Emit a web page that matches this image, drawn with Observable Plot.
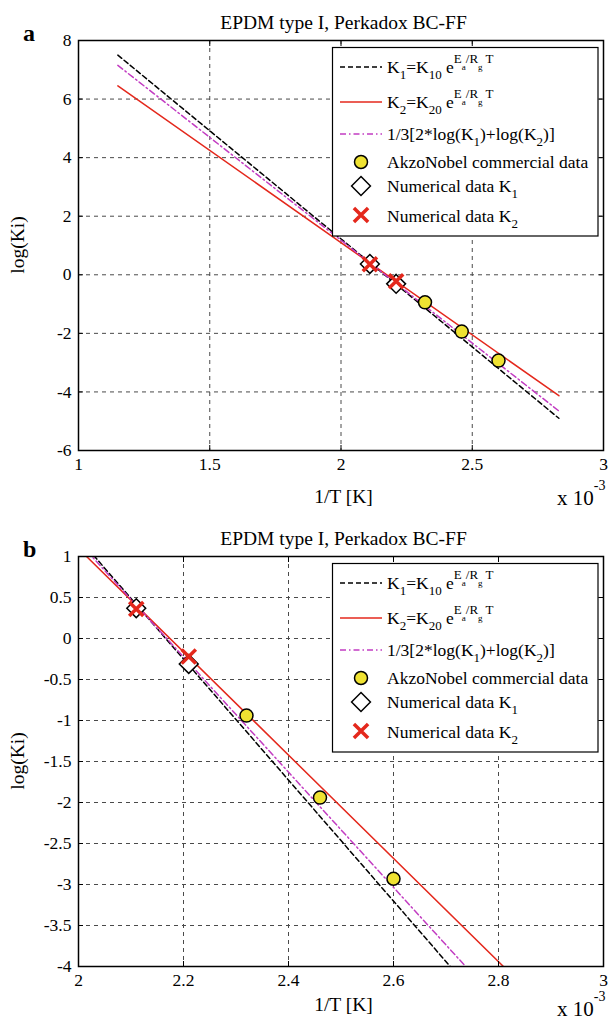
<!DOCTYPE html>
<html><head><meta charset="utf-8">
<script src="https://cdn.jsdelivr.net/npm/d3@7"></script>
<script src="https://cdn.jsdelivr.net/npm/@observablehq/plot@0.6"></script>
<style>
body{margin:0;background:#fff;}
svg{display:block;}
svg text{font-family:"Liberation Serif","Times New Roman",serif !important;}
</style></head><body><div id="chart"></div>
<script>
const FONT = '"Liberation Serif","Times New Roman",serif';
const title = "EPDM type I, Perkadox BC-FF";
const panelLetters = ["a", "b"];
const xLabel = "1/T [K]";
const yLabel = "log(Ki)";

// straight-line fits: endpoints (x = 1/T in 10^-3 1/K)
const invT_line = [1.15, 2.83];
const logK1_line = [7.5, -4.9];
const logK2_line = [6.45, -4.13];
const logMix_line = [7.15, -4.65];

// markers
const akzo_x = [2.32, 2.46, 2.60];
const akzo_y = [-0.94, -1.94, -2.93];
const numK1_x = [2.11, 2.21];
const numK1_y = [0.37, -0.31];
const numK2_x = [2.11, 2.21];
const numK2_y = [0.36, -0.22];

// ticks
const xTicksA = [1, 1.5, 2, 2.5, 3];
const yTicksA = [-6, -4, -2, 0, 2, 4, 6, 8];
const xTicksB = [2, 2.2, 2.4, 2.6, 2.8, 3];
const yTicksB = [-4, -3.5, -3, -2.5, -2, -1.5, -1, -0.5, 0, 0.5, 1];

const legendLabels = [
  [["K",""],["1","sub"],["=K",""],["10","sub"],[" e",""],["E","sup"],["a","supsub"],["/R","sup"],["g","supsub"],[" T","sup"]],
  [["K",""],["2","sub"],["=K",""],["20","sub"],[" e",""],["E","sup"],["a","supsub"],["/R","sup"],["g","supsub"],[" T","sup"]],
  [["1/3[2*log(K",""],["1","sub"],[")+log(K",""],["2","sub"],[")]",""]],
  [["AkzoNobel commercial data",""]],
  [["Numerical data K",""],["1","sub"]],
  [["Numerical data K",""],["2","sub"]]
];

const RED = "#e4281c", MAG = "#c23cc2", YEL = "#efe232", GRID = "#4a4a4a";

const toRows = (xs, ys) => xs.map((x, i) => ({x, y: ys[i]}));
const k1 = toRows(invT_line, logK1_line);
const k2 = toRows(invT_line, logK2_line);
const mix = toRows(invT_line, logMix_line);
const akzo = toRows(akzo_x, akzo_y);
const nk1 = toRows(numK1_x, numK1_y);
const nk2 = toRows(numK2_x, numK2_y);

function panel(letter, xTicks, yTicks, height, marginBottom, labelY, expY) {
  const fmt = d => String(d);
  const p = Plot.plot({
    width: 609, height, marginLeft: 78, marginRight: 6, marginTop: 40, marginBottom,
    x: {domain: [xTicks[0], xTicks[xTicks.length - 1]]},
    y: {domain: [yTicks[0], yTicks[yTicks.length - 1]]},
    style: {fontFamily: FONT, fontSize: "17.5px", color: "black", background: "white", overflow: "visible"},
    marks: [
      Plot.gridX(xTicks, {stroke: GRID, strokeOpacity: 1, strokeDasharray: "4,4"}),
      Plot.gridY(yTicks, {stroke: GRID, strokeOpacity: 1, strokeDasharray: "4,4"}),
      Plot.line(k1, {x: "x", y: "y", stroke: "black", strokeWidth: 1.5, strokeDasharray: "5,3", clip: true}),
      Plot.line(k2, {x: "x", y: "y", stroke: RED, strokeWidth: 1.5, clip: true}),
      Plot.line(mix, {x: "x", y: "y", stroke: MAG, strokeWidth: 1.5, strokeDasharray: "6,3,1.5,3", clip: true}),
      Plot.dot(akzo, {x: "x", y: "y", r: 6.5, fill: YEL, stroke: "black", strokeWidth: 1.5}),
      Plot.dot(nk1, {x: "x", y: "y", symbol: "diamond2", r: 8.5, fill: "white", stroke: "black", strokeWidth: 1.5}),
      Plot.dot(nk2, {x: "x", y: "y", symbol: "times", r: 6.5, fill: "none", stroke: RED, strokeWidth: 3.5}),
      Plot.frame({stroke: "black", strokeWidth: 1.5}),
      Plot.axisX(xTicks, {anchor: "bottom", tickSize: 0, tickPadding: 7, tickFormat: fmt, label: null}),
      Plot.axisY(yTicks, {anchor: "left", tickSize: 0, tickPadding: 7, tickFormat: fmt, label: null}),
      Plot.axisX(xTicks, {anchor: "bottom", tickSize: -5, tickFormat: () => "", label: null}),
      Plot.axisX(xTicks, {anchor: "top", tickSize: -5, tickFormat: () => "", label: null}),
      Plot.axisY(yTicks, {anchor: "left", tickSize: -5, tickFormat: () => "", label: null}),
      Plot.axisY(yTicks, {anchor: "right", tickSize: -5, tickFormat: () => "", label: null})
    ]
  });
  const svg = d3.select(p).attr("font-family", FONT);
  const cx = 78 + (609 - 6 - 78) / 2 + 3;
  svg.append("text").attr("x", cx).attr("y", 29).attr("text-anchor", "middle")
    .attr("font-size", 19.5).text(title);
  svg.append("text").attr("x", 23).attr("y", 41).attr("text-anchor", "start")
    .attr("font-size", 24).attr("font-weight", "bold").text(letter);
  svg.append("text").attr("x", cx).attr("y", labelY).attr("text-anchor", "middle")
    .attr("font-size", 19.5).text(xLabel);
  const ex = svg.append("text").attr("font-size", 21).attr("text-anchor", "start")
    .attr("x", 557).attr("y", expY);
  ex.append("tspan").text("x 10");
  ex.append("tspan").attr("dy", -15).attr("font-size", 14).text("-3");
  svg.append("text").attr("transform", `translate(24,${40 + 205}) rotate(-90)`)
    .attr("text-anchor", "middle").attr("font-size", 19.5).text(yLabel);

  // legend
  const lg = svg.append("g");
  lg.append("rect").attr("x", 332.5).attr("y", 47.5).attr("width", 265.5).attr("height", 188.5)
    .attr("fill", "white").attr("stroke", "black").attr("stroke-width", 1.2);
  const lineY = [67, 102, 134];
  const lineStyles = [["black", "5,3"], [RED, null], [MAG, "6,3,1.5,3"]];
  lineY.forEach((y, i) => {
    lg.append("line").attr("x1", 340).attr("x2", 382).attr("y1", y).attr("y2", y)
      .attr("stroke", lineStyles[i][0]).attr("stroke-width", 1.5)
      .attr("stroke-dasharray", lineStyles[i][1]);
  });
  lg.append("circle").attr("cx", 361).attr("cy", 162).attr("r", 6.5)
    .attr("fill", YEL).attr("stroke", "black").attr("stroke-width", 1.5);
  lg.append("path").attr("transform", "translate(361,186)")
    .attr("d", d3.symbol(d3.symbolDiamond2, Math.PI * 8.5 * 8.5)())
    .attr("fill", "white").attr("stroke", "black").attr("stroke-width", 1.5);
  lg.append("path").attr("transform", "translate(361,215)")
    .attr("d", d3.symbol(d3.symbolTimes, Math.PI * 6.5 * 6.5)())
    .attr("fill", "none").attr("stroke", RED).attr("stroke-width", 3.5);
  const base = [73, 108, 140, 168, 192, 222];
  const shift = {"": 0, sub: 6, sup: -10, supsub: -3};
  const size = {"": 17.5, sub: 13, sup: 13, supsub: 9};
  legendLabels.forEach((parts, i) => {
    const b = base[i];
    const t = lg.append("text").attr("x", 387).attr("y", b).attr("font-size", 17.5)
      .attr("text-anchor", "start").style("white-space", "pre");
    let cur = 0;
    parts.forEach(([s, kind]) => {
      const target = shift[kind];
      t.append("tspan").attr("dy", target - cur).attr("font-size", size[kind]).text(s);
      cur = target;
    });
  });
  return p;
}

const root = document.getElementById("chart");
root.appendChild(panel(panelLetters[0], xTicksA, yTicksA, 516, 66, 503, 505));
root.appendChild(panel(panelLetters[1], xTicksB, yTicksB, 504, 54, 495, 500));
</script></body></html>
